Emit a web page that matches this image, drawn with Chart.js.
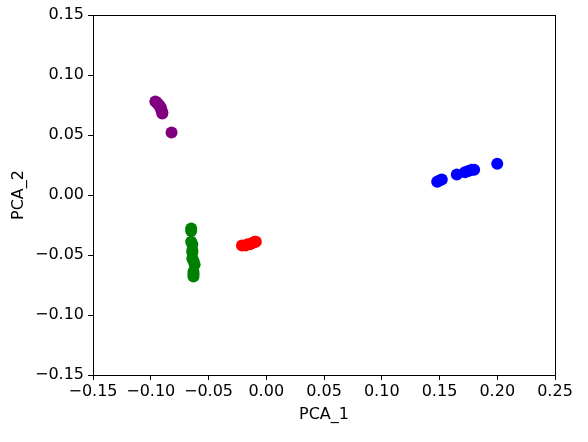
<!DOCTYPE html>
<html>
<head>
<meta charset="utf-8">
<script src="https://cdn.jsdelivr.net/npm/chart.js@4/dist/chart.umd.min.js"></script>
<style>
  html, body { margin: 0; padding: 0; background: #fff; }
  #wrap { width: 588px; height: 442px; }
</style>
</head>
<body>
<div id="wrap"><canvas id="pca"></canvas></div>
<script>
/* --------------- Cluster points (PCA_1, PCA_2) --------------- */
const purpleX = [-0.096, -0.095, -0.094, -0.093, -0.092, -0.091, -0.091, -0.090, -0.090, -0.082];
const purpleY = [0.078, 0.077, 0.076, 0.075, 0.074, 0.072, 0.071, 0.069, 0.068, 0.052];

const greenX = [-0.065, -0.065, -0.065, -0.064, -0.064, -0.064, -0.064, -0.063, -0.062, -0.063, -0.063, -0.063];
const greenY = [-0.028, -0.030, -0.039, -0.041, -0.046, -0.048, -0.053, -0.055, -0.058, -0.064, -0.066, -0.068];

const redX = [-0.021, -0.018, -0.016, -0.014, -0.012, -0.010, -0.009];
const redY = [-0.042, -0.042, -0.041, -0.041, -0.040, -0.039, -0.039];

const blueX = [0.148, 0.150, 0.152, 0.165, 0.172, 0.175, 0.178, 0.180, 0.200];
const blueY = [0.011, 0.012, 0.013, 0.017, 0.019, 0.020, 0.021, 0.021, 0.026];

/* --------------- Axis limits --------------- */
const xLimits = [-0.15, 0.25];
const yLimits = [-0.15, 0.15];
const tickStep = 0.05;

const toPoints = (xs, ys) => xs.map((x, i) => ({ x: x, y: ys[i] }));
const fmt = (v) => (Math.abs(v) < 1e-9 ? 0 : v).toFixed(2).replace("-", "\u2212");

const font = { family: "DejaVu Sans", size: 16 };

/* box round the plot area, like matplotlib spines */
const frame = {
  id: "frame",
  afterDraw(chart) {
    const a = chart.chartArea;
    const ctx = chart.ctx;
    ctx.save();
    ctx.strokeStyle = "#000";
    ctx.lineWidth = 1;
    ctx.strokeRect(Math.round(a.left) + 0.5, Math.round(a.top) + 0.5,
      Math.round(a.right - a.left), Math.round(a.bottom - a.top));
    ctx.restore();
  }
};

const ds = (xs, ys, color) => ({
  data: toPoints(xs, ys),
  backgroundColor: color,
  borderColor: color,
  pointRadius: 6,
  pointHoverRadius: 6,
  borderWidth: 0
});

new Chart(document.getElementById("pca"), {
  type: "scatter",
  plugins: [frame],
  data: {
    datasets: [
      ds(purpleX, purpleY, "#800080"),
      ds(greenX, greenY, "#008000"),
      ds(redX, redY, "#ff0000"),
      ds(blueX, blueY, "#0000ff")
    ]
  },
  options: {
    responsive: true,
    maintainAspectRatio: false,
    animation: false,
    layout: { padding: { top: 15, right: 33, left: 0, bottom: 0 } },
    plugins: { legend: { display: false }, tooltip: { enabled: false } },
    scales: {
      x: {
        min: xLimits[0],
        max: xLimits[1],
        grid: { drawOnChartArea: false, drawTicks: true, tickLength: 5, color: "#000" },
        border: { display: true, color: "#000" },
        ticks: { stepSize: tickStep, color: "#000", font: font, padding: 2, maxRotation: 0,
          callback: (v) => fmt(v) },
        title: { display: true, text: "PCA_1", color: "#000", font: font, padding: { top: 4, bottom: 18 } },
        afterFit: (s) => { s.height = 67; }
      },
      y: {
        min: yLimits[0],
        max: yLimits[1],
        grid: { drawOnChartArea: false, drawTicks: true, tickLength: 5, color: "#000" },
        border: { display: true, color: "#000" },
        ticks: { stepSize: tickStep, color: "#000", font: font, padding: 4,
          callback: (v) => fmt(v) },
        title: { display: true, text: "PCA_2", color: "#000", font: font, padding: { top: 9, bottom: 6 } },
        afterFit: (s) => { s.width = 93; }
      }
    }
  }
});
</script>
</body>
</html>
